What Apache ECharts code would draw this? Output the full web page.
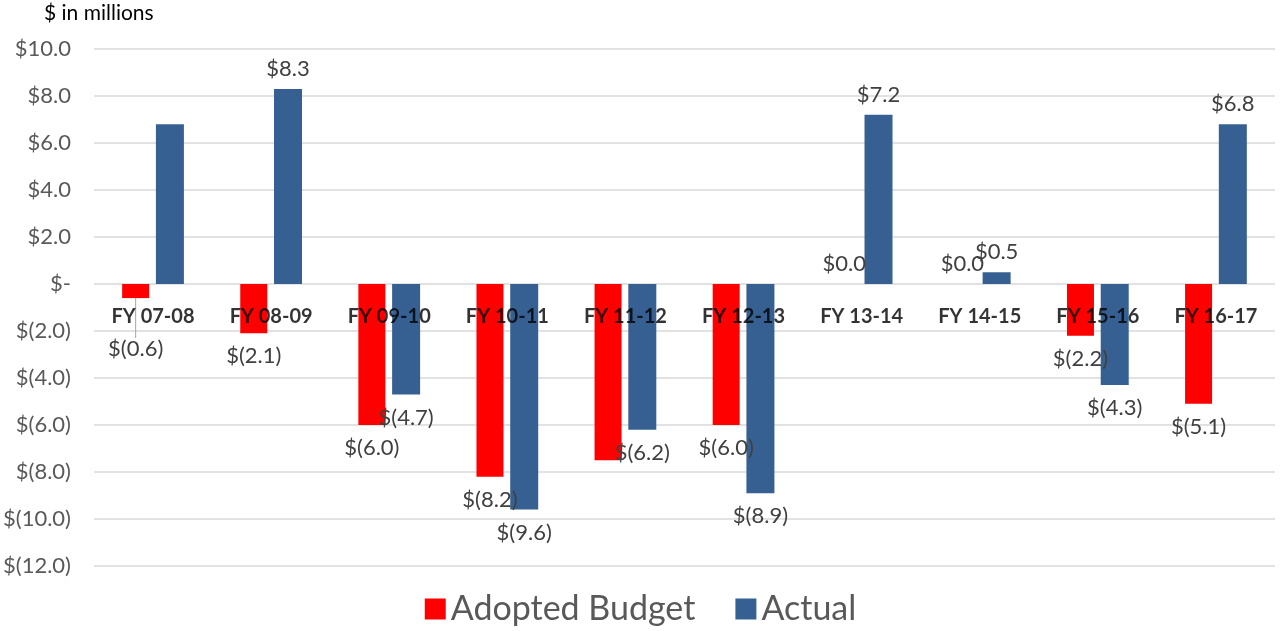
<!DOCTYPE html>
<html><head><meta charset="utf-8">
<script src="https://cdn.jsdelivr.net/npm/echarts@6/dist/echarts.min.js"></script>
<style>html,body{margin:0;padding:0;background:#fff}#c{width:1281px;height:631px}</style>
</head><body><div id="c"></div>
<script>
const categories = ['FY 07-08','FY 08-09','FY 09-10','FY 10-11','FY 11-12','FY 12-13','FY 13-14','FY 14-15','FY 15-16','FY 16-17'];
const adoptedBudget = [-0.6,-2.1,-6.0,-8.2,-7.5,-6.0,0.0,0.0,-2.2,-5.1];
const actual = [6.8,8.3,-4.7,-9.6,-6.2,-8.9,7.2,0.5,-4.3,6.8];
const hiddenAdoptedLabels = ['FY 11-12'];
const hiddenActualLabels = ['FY 07-08'];
const pushedAdoptedLabels = ['FY 07-08'];

function axisFmt(v){ if (v===0) return '$-'; if (v<0) return '$(' + Math.abs(v).toFixed(1) + ')'; return '$' + v.toFixed(1); }
function labelFmt(v){ if (v<0) return '$(' + Math.abs(v).toFixed(1) + ')'; return '$' + v.toFixed(1); }
const FONT = 'Lato, "Open Sans", sans-serif';

function mk(vals, hidden, pushed){
  return vals.map((v,i)=>({
    value: v,
    label: {show: !(hidden && hidden.includes(categories[i])), position: v<0 ? 'bottom' : 'top', distance: v<0 ? 12 : 9},
    labelLine: {show: !!(pushed && pushed.includes(categories[i]))}
  }));
}

const chart = echarts.init(document.getElementById('c'));
chart.setOption({
  animation:false,
  textStyle:{fontFamily:FONT},
  title:{text:'$ in millions', left:39, top:-2, textStyle:{fontFamily:FONT, fontSize:21, fontWeight:'normal', color:'#000'}},
  legend:{bottom:0, left:'center', itemWidth:21, itemHeight:21, itemGap:40, icon:'rect',
    textStyle:{fontFamily:FONT, fontSize:34, color:'#595959'}, data:['Adopted Budget','Actual']},
  grid:{left:93, right:6, top:49, bottom:65, containLabel:false},
  xAxis:{type:'category', data:categories,
    axisLine:{show:false}, axisTick:{show:false}, axisLabel:{show:false}},
  yAxis:{type:'value', min:-12, max:10, interval:2,
    axisLine:{show:false}, axisTick:{show:false},
    splitLine:{lineStyle:{color:'#D9D9D9', width:1.5}},
    axisLabel:{formatter:axisFmt, margin:23, fontFamily:FONT, fontSize:22, color:'#595959'}},
  series:[
    {name:'Adopted Budget', type:'bar', data:mk(adoptedBudget, hiddenAdoptedLabels, pushedAdoptedLabels), barWidth:27, barGap:'25%',
      itemStyle:{color:'#FF0000'},
      label:{formatter:p=>labelFmt(p.value), fontFamily:FONT, fontSize:22, color:'#404040'},
      labelLine:{lineStyle:{color:'#A6A6A6', width:1}},
      labelLayout:p=> pushedAdoptedLabels.includes(categories[p.dataIndex]) ? {dy:28} : {}},
    {name:'Actual', type:'bar', data:mk(actual, hiddenActualLabels), barWidth:28, barGap:'25%',
      itemStyle:{color:'#376092'},
      label:{formatter:p=>labelFmt(p.value), fontFamily:FONT, fontSize:22, color:'#404040'}},
    {name:'categoryLabels', type:'scatter', silent:true, z:10, symbolSize:0,
      data:categories.map(c=>[c,0]),
      label:{show:true, position:'bottom', distance:23, formatter:p=>p.value[0],
        fontFamily:FONT, fontSize:20, fontWeight:'bold', color:'#000'}}
  ]
});
</script></body></html>
